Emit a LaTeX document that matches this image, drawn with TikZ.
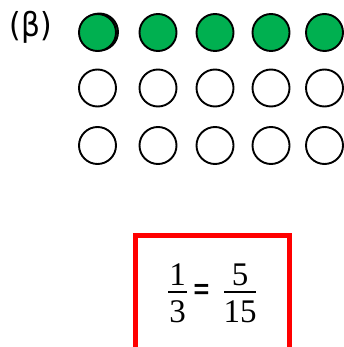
\documentclass[tikz,border=0pt]{standalone}
\usepackage{fontspec}
\setmainfont{Liberation Serif}
\newfontfamily\labelfont{DejaVu Sans}
\newfontfamily\signfont{Liberation Sans}
\definecolor{dotgreen}{HTML}{00B050}
\begin{document}
\begin{tikzpicture}[x=1pt,y=-1pt,
  dot/.style={circle,draw=black,line width=1.9pt,minimum size=37pt,inner sep=0pt},
  full/.style={dot,fill=dotgreen},
  empty/.style={dot,fill=white},
  digit/.style={font=\fontsize{33}{33}\selectfont,inner sep=0pt},
  bar/.style={line width=1.4pt}]
\useasboundingbox (0,0) rectangle (343,347);
% row label
\node[font=\labelfont\fontsize{33}{33}\selectfont,inner sep=0pt,xscale=0.9] (lab) at (31,27.5) {(β)};
% first circle drawn twice, slightly shifted
\node[full] (g0) at (99.5,32) {};
% grid of circles: first row shaded
\foreach \x [count=\i] in {97.5,158,215,271,324.5}{
  \node[full] (a\i) at (\x,32.5) {};
  \node[empty] (b\i) at (\x,88) {};
  \node[empty] (c\i) at (\x,145.5) {};
}
% framed equation
\draw[red,line width=5pt] (135.5,350) -- (135.5,235.5) -- (289.5,235.5) -- (289.5,350);
\node[digit] (n1) at (177.5,275) {1};
\node[digit] (d1) at (177.5,311.5) {3};
\draw[bar] (168,292) -- (187,292);
\node[font=\signfont\bfseries\fontsize{27}{27}\selectfont,inner sep=0pt] (eq) at (201.5,291.5) {=};
\node[digit] (n2) at (240,275) {5};
\node[digit] (d2) at (240,311.5) {15};
\draw[bar] (224,292) -- (256,292);
\end{tikzpicture}
\end{document}
